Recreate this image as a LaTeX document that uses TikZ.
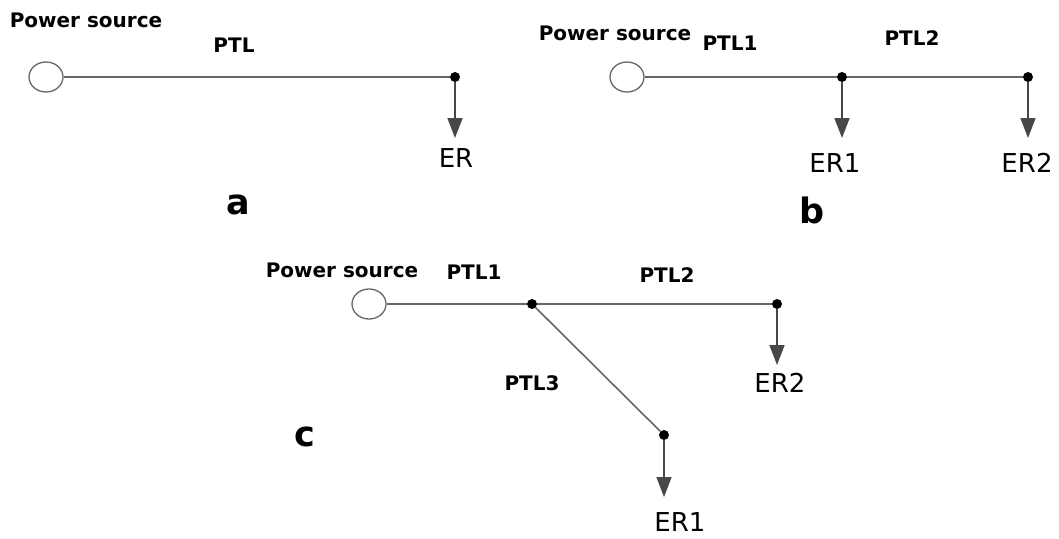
\documentclass[tikz,border=0pt]{standalone}
\usepackage{fontspec}
\setmainfont{DejaVu Sans}
\usetikzlibrary{shapes.geometric,arrows.meta}

\tikzset{
  srcnode/.style={draw=black!60, ellipse, minimum width=34pt, minimum height=30pt, inner sep=0pt, line width=1.3pt},
  junc/.style={circle, fill=black, minimum size=10pt, inner sep=0pt},
  ptl/.style={draw=black!60, line width=1.6pt},
  erline/.style={draw=black!72, line width=1.6pt, -{Triangle[length=20pt,width=15pt]}},
  lbl/.style={font=\fontsize{20}{24}\selectfont\bfseries, inner sep=0pt},
  erlbl/.style={font=\fontsize{26}{30}\selectfont, inner sep=0pt},
  caplbl/.style={font=\fontsize{35}{40}\selectfont\bfseries, inner sep=0pt}
}

\begin{document}
\begin{tikzpicture}[x=1pt, y=-1pt]
    \useasboundingbox (0,0) rectangle (1059,538);

    % a: one line, one receiver
    \node[srcnode] (srcA) at (46,77) {};
    \node[junc] (jA) at (455,77) {};
    \coordinate (endA) at (455,138);
    \draw[ptl] (srcA) -- (jA);
    \draw[erline] (jA) -- (endA);
    \node[lbl] (psA) at (86,20) {Power source};
    \node[lbl] (ptlA) at (234,45) {PTL};
    \node[erlbl] (erA) at (456,158) {ER};
    \node[caplbl] (capA) at (238,205) {a};

    % b: two receivers in series
    \node[srcnode] (srcB) at (627,77) {};
    \node[junc] (jB1) at (842,77) {};
    \node[junc] (jB2) at (1028,77) {};
    \coordinate (endB1) at (842,138);
    \coordinate (endB2) at (1028,138);
    \draw[ptl] (srcB) -- (jB1);
    \draw[ptl] (jB1) -- (jB2);
    \draw[erline] (jB1) -- (endB1);
    \draw[erline] (jB2) -- (endB2);
    \node[lbl] (psB) at (615,33) {Power source};
    \node[lbl] (ptlB1) at (730,43) {PTL1};
    \node[lbl] (ptlB2) at (912,38) {PTL2};
    \node[erlbl] (erB1) at (835,163) {ER1};
    \node[erlbl] (erB2) at (1027,163) {ER2};
    \node[caplbl] (capB) at (812,210) {b};

    % c: branched line
    \node[srcnode] (srcC) at (369,304) {};
    \node[junc] (jC) at (532,304) {};
    \node[junc] (jC2) at (777,304) {};
    \node[junc] (jC1) at (664,435) {};
    \coordinate (endC2) at (777,365);
    \coordinate (endC1) at (664,497);
    \draw[ptl] (srcC) -- (jC);
    \draw[ptl] (jC) -- (jC2);
    \draw[ptl] (jC) -- (jC1);
    \draw[erline] (jC2) -- (endC2);
    \draw[erline] (jC1) -- (endC1);
    \node[lbl] (psC) at (342,270) {Power source};
    \node[lbl] (ptlC1) at (474,272) {PTL1};
    \node[lbl] (ptlC2) at (667,275) {PTL2};
    \node[lbl] (ptlC3) at (532,383) {PTL3};
    \node[erlbl] (erC2) at (780,383) {ER2};
    \node[erlbl] (erC1) at (680,522) {ER1};
    \node[caplbl] (capC) at (305,437) {c};
\end{tikzpicture}
\end{document}
